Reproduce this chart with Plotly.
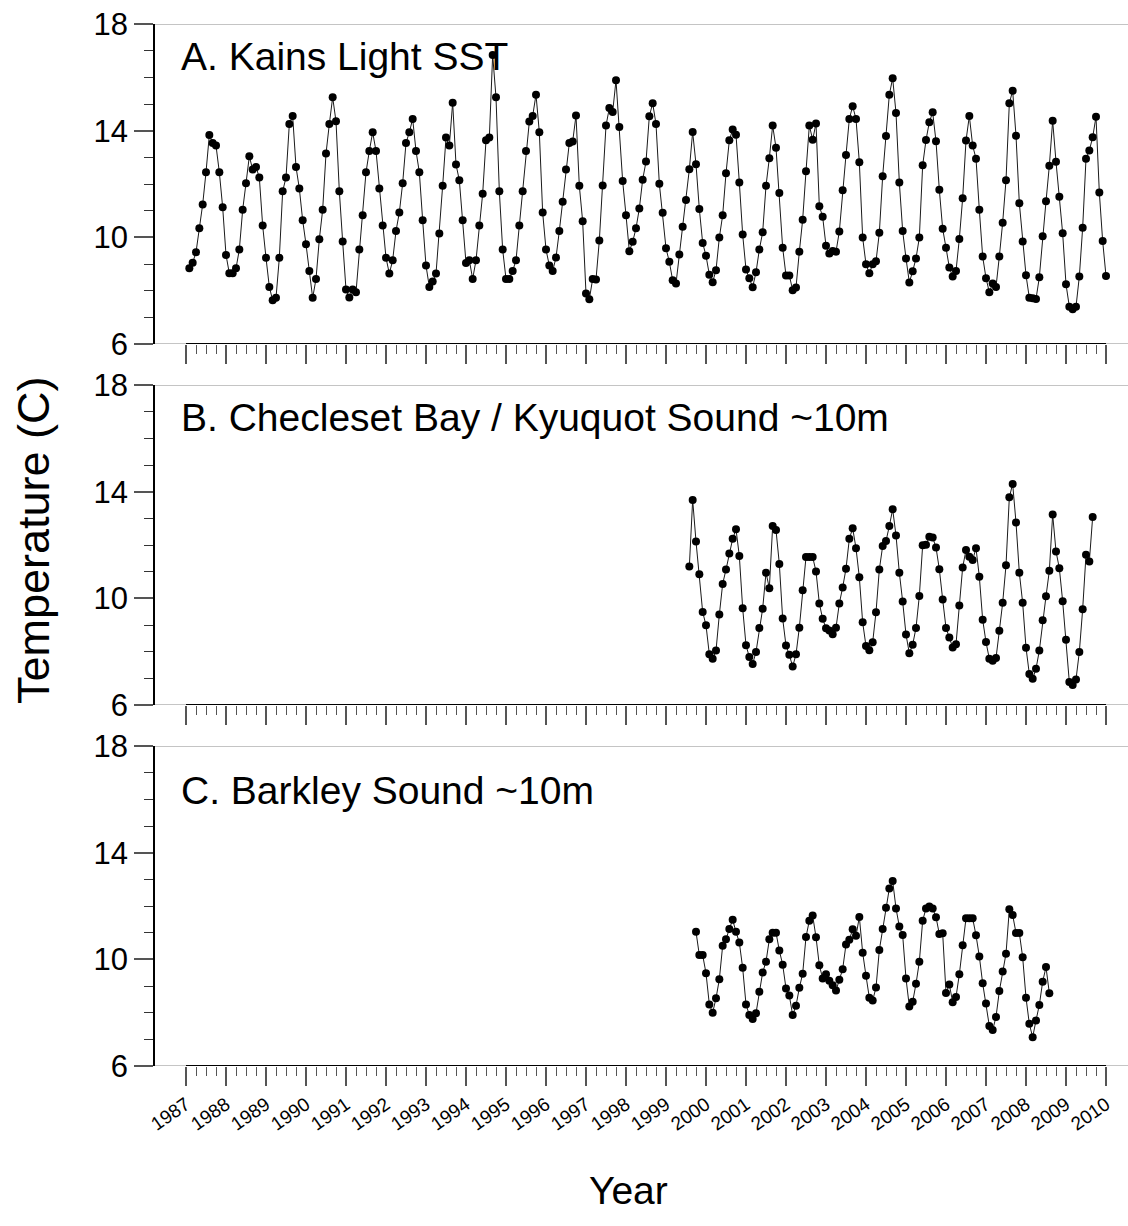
import plotly.graph_objects as go

# ---------------- data (monthly means, deg C) ----------------
kains_start = (1987, 1)
kains_temp = [
    8.84, 9.05, 9.44, 10.34, 11.23, 12.44, 13.84, 13.54, 13.44, 12.44, 11.13, 9.34,   # 1987
    8.65, 8.65, 8.84, 9.54, 11.03, 12.03, 13.04, 12.54, 12.64, 12.24, 10.44, 9.23,    # 1988
    8.14, 7.64, 7.73, 9.23, 11.73, 12.24, 14.25, 14.55, 12.64, 11.83, 10.64, 9.74,    # 1989
    8.74, 7.73, 8.44, 9.93, 11.03, 13.14, 14.25, 15.25, 14.35, 11.73, 9.84, 8.04,     # 1990
    7.74, 8.04, 7.94, 9.54, 10.83, 12.44, 13.24, 13.94, 13.24, 11.83, 10.44, 9.23,    # 1991
    8.64, 9.14, 10.24, 10.93, 12.03, 13.54, 13.94, 14.44, 13.24, 12.44, 10.64, 8.94,  # 1992
    8.14, 8.34, 8.64, 10.14, 11.93, 13.74, 13.44, 15.05, 12.73, 12.14, 10.64, 9.04,   # 1993
    9.14, 8.44, 9.14, 10.44, 11.63, 13.64, 13.74, 16.84, 15.25, 11.73, 9.54, 8.44,    # 1994
    8.44, 8.74, 9.14, 10.44, 11.73, 13.24, 14.34, 14.55, 15.35, 13.94, 10.93, 9.54,   # 1995
    8.94, 8.74, 9.24, 10.24, 11.33, 12.54, 13.54, 13.59, 14.57, 11.93, 10.60, 7.89,   # 1996
    7.68, 8.44, 8.42, 9.88, 11.94, 14.19, 14.85, 14.70, 15.89, 14.14, 12.11, 10.83,   # 1997
    9.48, 9.83, 10.34, 11.08, 12.16, 12.84, 14.54, 15.03, 14.25, 12.01, 10.92, 9.59,  # 1998
    9.08, 8.39, 8.27, 9.36, 10.40, 11.40, 12.55, 13.95, 12.74, 11.06, 9.79, 9.31,     # 1999
    8.60, 8.32, 8.77, 9.99, 10.83, 12.40, 13.64, 14.04, 13.85, 12.06, 10.11, 8.79,    # 2000
    8.47, 8.13, 8.69, 9.54, 10.19, 11.93, 12.97, 14.19, 13.36, 11.66, 9.61, 8.57,     # 2001
    8.57, 8.02, 8.12, 9.46, 10.66, 12.48, 14.19, 13.66, 14.27, 11.17, 10.77, 9.68,    # 2002
    9.39, 9.49, 9.46, 10.22, 11.77, 13.09, 14.44, 14.92, 14.44, 12.82, 9.99, 8.99,    # 2003
    8.65, 8.99, 9.10, 10.17, 12.29, 13.80, 15.35, 15.97, 14.66, 12.06, 10.24, 9.21,   # 2004
    8.31, 8.73, 9.21, 9.99, 12.70, 13.65, 14.32, 14.69, 13.60, 11.78, 10.32, 9.61,    # 2005
    8.87, 8.53, 8.74, 9.94, 11.47, 13.63, 14.55, 13.44, 12.95, 11.03, 9.28, 8.47,     # 2006
    7.94, 8.27, 8.14, 9.28, 10.55, 12.14, 15.03, 15.50, 13.81, 11.28, 9.84, 8.58,     # 2007
    7.73, 7.72, 7.69, 8.50, 10.04, 11.35, 12.68, 14.37, 12.83, 11.52, 10.15, 8.24,    # 2008
    7.40, 7.30, 7.40, 8.53, 10.36, 12.95, 13.26, 13.75, 14.52, 11.68, 9.86, 8.55,     # 2009
]

checleset_start = (1999, 7)
checleset_temp = [
    11.19, 13.69, 12.13, 10.90, 9.49, 8.99,                                          # 1999 Jul-Dec
    7.90, 7.73, 8.04, 9.39, 10.54, 11.08, 11.68, 12.23, 12.59, 11.59, 9.63, 8.24,    # 2000
    7.80, 7.54, 7.99, 8.89, 9.61, 10.96, 10.38, 12.71, 12.56, 11.29, 9.24, 8.23,     # 2001
    7.88, 7.44, 7.90, 8.90, 10.30, 11.55, 11.55, 11.55, 11.01, 9.81, 9.23, 8.88,     # 2002
    8.79, 8.65, 8.90, 9.81, 10.41, 11.11, 12.23, 12.63, 11.88, 10.79, 9.10, 8.21,    # 2003
    8.05, 8.35, 9.48, 11.08, 11.96, 12.15, 12.71, 13.34, 12.36, 10.96, 9.88, 8.64,   # 2004
    7.94, 8.26, 8.89, 10.09, 11.99, 12.01, 12.31, 12.28, 11.91, 11.09, 9.96, 8.89,   # 2005
    8.53, 8.16, 8.28, 9.73, 11.16, 11.81, 11.56, 11.44, 11.88, 10.81, 9.20, 8.36,    # 2006
    7.73, 7.66, 7.76, 8.78, 9.83, 11.24, 13.79, 14.29, 12.84, 10.96, 9.83, 8.15,     # 2007
    7.16, 6.98, 7.36, 8.04, 9.18, 10.08, 11.03, 13.14, 11.76, 11.13, 9.89, 8.45,     # 2008
    6.86, 6.75, 6.96, 7.99, 9.59, 11.63, 11.38, 13.05,                               # 2009 Jan-Aug
]

barkley_start = (1999, 9)
barkley_temp = [
    11.03, 10.16, 10.16, 9.48,                                                        # 1999 Sep-Dec
    8.31, 8.00, 8.54, 9.25, 10.51, 10.75, 11.14, 11.48, 11.03, 10.63, 9.68, 8.31,    # 2000
    7.91, 7.76, 7.98, 8.78, 9.51, 9.91, 10.75, 11.00, 11.00, 10.33, 9.80, 8.91,      # 2001
    8.64, 7.91, 8.26, 8.93, 9.46, 10.84, 11.45, 11.64, 10.83, 9.78, 9.28, 9.44,      # 2002
    9.20, 9.03, 8.83, 9.23, 9.63, 10.56, 10.73, 11.13, 10.88, 11.59, 10.25, 9.38,    # 2003
    8.56, 8.46, 8.94, 10.35, 11.14, 11.93, 12.66, 12.94, 11.91, 11.23, 10.91, 9.28,  # 2004
    8.23, 8.41, 9.08, 9.91, 11.45, 11.91, 11.98, 11.91, 11.58, 10.95, 10.98, 8.74,   # 2005
    9.06, 8.39, 8.59, 9.44, 10.53, 11.54, 11.54, 11.54, 10.90, 10.11, 9.10, 8.34,    # 2006
    7.50, 7.35, 7.84, 8.81, 9.54, 10.21, 11.88, 11.66, 10.99, 10.99, 10.08, 8.56,    # 2007
    7.58, 7.08, 7.71, 8.29, 9.16, 9.71, 8.73,                                         # 2008 Jan-Jul
]

panel_titles = [
    "A. Kains Light SST",
    "B. Checleset Bay / Kyuquot Sound ~10m",
    "C. Barkley Sound ~10m",
]
year_ticks = list(range(1987, 2011))
quarter_ticks = [y + q / 4 for y in range(1987, 2010) for q in (1, 2, 3)]
y_ticks = [6, 10, 14, 18]
y_minor = list(range(6, 19))
x_title = "Year"
y_title = "Temperature (C)"


def month_positions(start, n):
    y0, m0 = start
    out = []
    for i in range(n):
        k = m0 - 1 + i
        out.append(y0 + k // 12 + (k % 12 + 1) / 12.0)
    return out


# ---------------- layout geometry ----------------
W, H = 1128, 1226
ML = 155
FONT = "Liberation Sans, Arial, Helvetica, sans-serif"
# panel pixel extents (top of 18, bottom of 6)
panels_px = [(24, 344), (385, 705), (746, 1066)]
domains = [[1 - b / H, 1 - t / H] for (t, b) in panels_px]
x_range = [1987 - 31 / 40.0, 1987 + (W - 186) / 40.0]

series = [
    (kains_start, kains_temp),
    (checleset_start, checleset_temp),
    (barkley_start, barkley_temp),
]

fig = go.Figure()
for i, (start, vals) in enumerate(series):
    sfx = "" if i == 0 else str(i + 1)
    fig.add_trace(go.Scatter(
        x=month_positions(start, len(vals)), y=vals,
        mode="lines+markers",
        line=dict(color="#1a1a1a", width=1),
        marker=dict(color="black", size=8),
        xaxis="x" + sfx, yaxis="y" + sfx,
        showlegend=False, hoverinfo="skip",
    ))

layout = dict(
    width=W, height=H,
    margin=dict(l=ML, r=0, t=0, b=0, autoexpand=False),
    paper_bgcolor="white", plot_bgcolor="white",
    font=dict(family=FONT, color="black"),
    showlegend=False,
)

shapes = []
annotations = []
for i in range(3):
    sfx = "" if i == 0 else str(i + 1)
    xa = "xaxis" + sfx
    ya = "yaxis" + sfx
    layout[xa] = dict(
        domain=[0, 1], range=x_range, anchor="y" + sfx,
        showgrid=False, zeroline=False, showline=False, automargin=False,
        ticks="outside", tickmode="array", tickvals=year_ticks,
        ticktext=[str(y) for y in year_ticks],
        ticklen=19, tickwidth=1.5, tickcolor="#555",
        minor=dict(tickmode="array", tickvals=quarter_ticks, ticks="outside",
                   ticklen=9, tickwidth=1.2, tickcolor="#555", showgrid=False),
        showticklabels=(i == 2), tickangle=-35,
        tickfont=dict(size=19, family=FONT, color="black"),
        fixedrange=True,
    )
    layout[ya] = dict(
        domain=domains[i], range=[6, 18], anchor="x" + sfx,
        showgrid=False, zeroline=False, automargin=False,
        showline=True, linecolor="black", linewidth=1.5,
        ticks="outside", tickmode="array", tickvals=y_ticks,
        ticklen=19, tickwidth=1.5, tickcolor="#555",
        minor=dict(tickmode="array", tickvals=y_minor, ticks="outside",
                   ticklen=9, tickwidth=1.2, tickcolor="#333", showgrid=False),
        tickfont=dict(size=31, family=FONT, color="black"),
        fixedrange=True,
    )
    xr = "x" + sfx
    yr = "y" + sfx
    # gray frame (top and bottom)
    for yv in (18, 6):
        shapes.append(dict(type="line", xref=xr + " domain", yref=yr,
                           x0=0, x1=1, y0=yv, y1=yv,
                           line=dict(color="#8a8a8a", width=1)))
    # black x axis line spanning the tick range
    shapes.append(dict(type="line", xref=xr, yref=yr,
                       x0=year_ticks[0], x1=year_ticks[-1], y0=6, y1=6,
                       line=dict(color="black", width=2)))
    # panel title
    title_y = [56, 417, 790][i]
    annotations.append(dict(
        text=panel_titles[i], xref="paper", yref="paper",
        x=(179 - ML) / (W - ML), y=1 - title_y / H,
        xanchor="left", yanchor="middle", showarrow=False,
        font=dict(size=39, family=FONT, color="black"),
    ))

annotations.append(dict(
    text=y_title, xref="paper", yref="paper",
    x=(33 - ML) / (W - ML), y=1 - 540 / H, textangle=-90,
    xanchor="center", yanchor="middle", showarrow=False,
    font=dict(size=45, family=FONT, color="black"),
))
annotations.append(dict(
    text=x_title, xref="paper", yref="paper",
    x=(628 - ML) / (W - ML), y=1 - 1190 / H,
    xanchor="center", yanchor="middle", showarrow=False,
    font=dict(size=39, family=FONT, color="black"),
))

layout["shapes"] = shapes
layout["annotations"] = annotations
fig.update_layout(**layout)

fig.write_html("out.html", include_plotlyjs=True, config={"displayModeBar": False})
